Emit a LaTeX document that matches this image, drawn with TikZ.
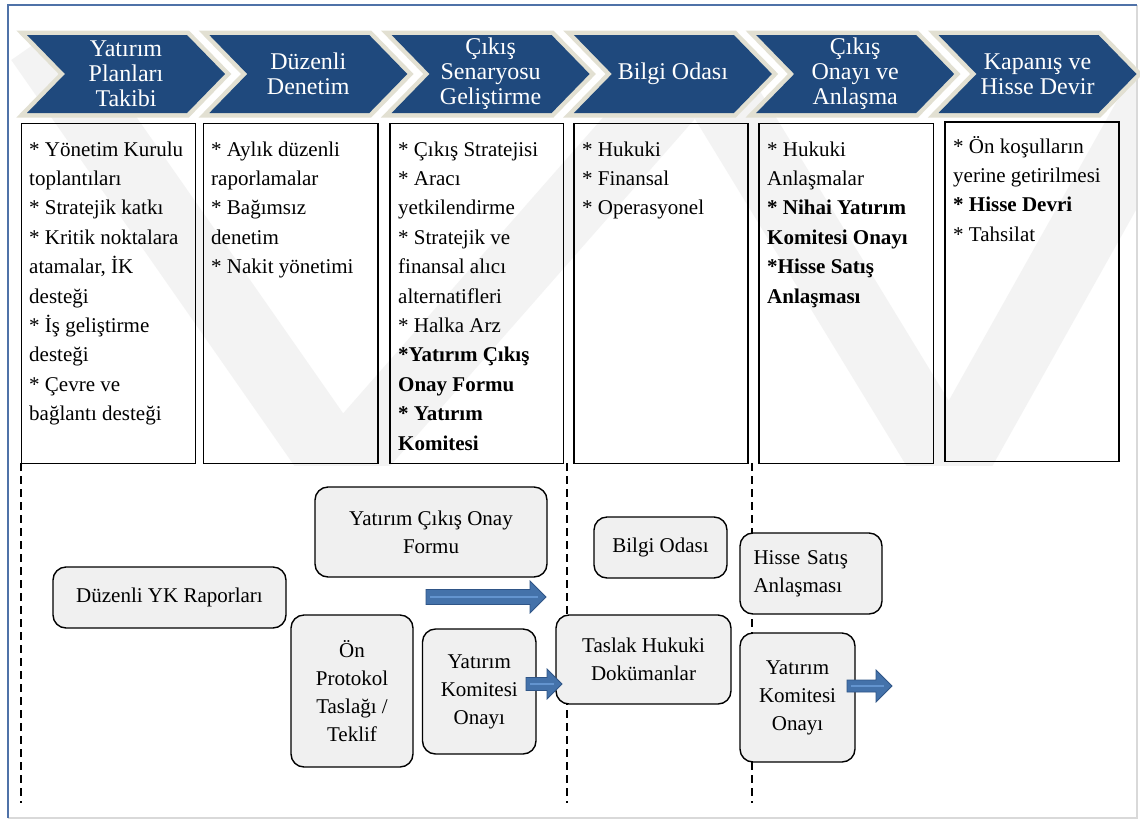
\documentclass[tikz,border=0pt]{standalone}
\usepackage{fontspec}
\setmainfont{Liberation Serif}
\definecolor{chevblue}{HTML}{1F497D}
\definecolor{chevedge}{HTML}{E2E0D2}
\definecolor{boxgray}{HTML}{F0F0F0}
\definecolor{framecol}{HTML}{4F72A8}
\definecolor{frameshade}{HTML}{D9D9D9}
\definecolor{arrowfill}{HTML}{4472AA}
\definecolor{arrowedge}{HTML}{2F5587}
\definecolor{arrowlight}{HTML}{6394CF}
\definecolor{wmark}{HTML}{F3F3F3}
\newcommand{\BlockArrow}[6]{% x1, x2, yc, shaft half, head half, head length
  \pgfmathsetmacro\hb{#2-#6}
  \filldraw[fill=arrowfill, draw=arrowedge, line width=0.8pt, line join=miter]
    (#1,#3-#4) -- (\hb,#3-#4) -- (\hb,#3-#5) -- (#2,#3) -- (\hb,#3+#5) -- (\hb,#3+#4) -- (#1,#3+#4) -- cycle;
  \draw[arrowlight, line width=2.6pt] (#1+4,#3) -- (#2-8,#3);
}
\begin{document}
\begin{tikzpicture}[x=1pt,y=-1pt,
  chevtext/.style={text=white, align=center, font=\fontsize{24}{25}\selectfont, inner sep=0pt},
  colbox/.style={draw=black, line width=1.7pt, inner sep=0pt, anchor=north west},
  coltext/.style={anchor=base west, inner sep=0pt, font=\fontsize{21}{28}\selectfont},
  rbox/.style={draw=black, line width=1.4pt, fill=boxgray, rounded corners=13pt, inner sep=0pt, align=center, font=\fontsize{21}{28}\selectfont},
  phaseline/.style={draw=black, line width=1.8pt, dash pattern=on 8pt off 5pt}
]
\useasboundingbox (0,0) rectangle (1140,820);
\fill[white] (0,0) rectangle (1140,820);

% faint watermark
\begin{scope}
  \clip (9,40) rectangle (1136,465);
  \draw[wmark, line width=70pt, line join=miter] (40,40) -- (340,470) -- (700,60) -- (950,470) -- (1180,60);
\end{scope}

% frame
\draw[frameshade, line width=1.2pt] (1137,5) -- (1137,818) -- (8,818);
\draw[framecol, line width=1.3pt] (8,818) -- (8,5) -- (1137,5);

% chevrons
\foreach \k/\t in {0/{Yatırım\\Planları\\Takibi}, 1/{Düzenli\\Denetim}, 2/{Çıkış\\Senaryosu\\Geliştirme}, 3/{Bilgi Odası}, 4/{Çıkış\\Onayı ve\\Anlaşma}, 5/{Kapanış ve\\Hisse Devir}} {
  \pgfmathsetmacro\L{27+182.3*\k}
  \draw[chevedge, line width=9pt, line join=miter] (\L,35) -- ++(160,0) -- ++(38,39) -- ++(-38,39) -- ++(-160,0) -- ++(38,-39) -- cycle;
  \fill[chevblue] (\L,35) -- ++(160,0) -- ++(38,39) -- ++(-38,39) -- ++(-160,0) -- ++(38,-39) -- cycle;
  \node[chevtext] (chev\k) at (\L+99,74) {\t};
}

% column boxes
\node[colbox, minimum width=174pt, minimum height=340pt] (box1) at (20.5,122.5) {};
\node[colbox, minimum width=174.5pt, minimum height=340pt] (box2) at (202.5,122.5) {};
\node[colbox, minimum width=173.5pt, minimum height=340pt] (box3) at (389,122.5) {};
\node[colbox, minimum width=174pt, minimum height=340pt] (box4) at (573,122.5) {};
\node[colbox, minimum width=174.5pt, minimum height=340pt] (box5) at (758,122.5) {};
\node[colbox, minimum width=174pt, minimum height=339.5pt] (box6) at (944,121) {};

\foreach \t [count=\i] in {{* Yönetim Kurulu}, {toplantıları}, {* Stratejik katkı}, {* Kritik noktalara}, {atamalar, İK}, {desteği}, {* İş geliştirme}, {desteği}, {* Çevre ve}, {bağlantı desteği}}
  \node[coltext] (ta\i) at (29,{156+29.4*(\i-1)}) {\t};
\foreach \t [count=\i] in {{* Aylık düzenli}, {raporlamalar}, {* Bağımsız}, {denetim}, {* Nakit yönetimi}}
  \node[coltext] (tb\i) at (211,{156+29.4*(\i-1)}) {\t};
\foreach \t [count=\i] in {{* Çıkış Stratejisi}, {* Aracı}, {yetkilendirme}, {* Stratejik ve}, {finansal alıcı}, {alternatifleri}, {* Halka Arz}, {\textbf{*Yatırım Çıkış}}, {\textbf{Onay Formu}}, {\textbf{* Yatırım}}, {\textbf{Komitesi}}}
  \node[coltext] (tc\i) at (398,{156+29.4*(\i-1)}) {\t};
\foreach \t [count=\i] in {{* Hukuki}, {* Finansal}, {* Operasyonel}}
  \node[coltext] (td\i) at (582,{156+29.4*(\i-1)}) {\t};
\foreach \t [count=\i] in {{* Hukuki}, {Anlaşmalar}, {\textbf{* Nihai Yatırım}}, {\textbf{Komitesi Onayı}}, {\textbf{*Hisse Satış}}, {\textbf{Anlaşması}}}
  \node[coltext] (te\i) at (767,{156+29.4*(\i-1)}) {\t};
\foreach \t [count=\i] in {{* Ön koşulların}, {yerine getirilmesi}, {\textbf{* Hisse Devri}}, {* Tahsilat}}
  \node[coltext] (tf\i) at (953,{153+29.4*(\i-1)}) {\t};

% phase separators
\coordinate (s1t) at (21,463); \coordinate (s1b) at (21,803);
\coordinate (s2t) at (567,463); \coordinate (s2b) at (567,803);
\coordinate (s3t) at (752,463); \coordinate (s3b) at (752,803);
\draw[phaseline] (s1t) -- (s1b);
\draw[phaseline] (s2t) -- (s2b);
\draw[phaseline] (s3t) -- (s3b);

% rounded boxes
\node[rbox, minimum width=233pt, minimum height=61pt] (ykr) at (169.5,597.5) {Düzenli YK Raporları};
\node[rbox, minimum width=232pt, minimum height=90pt] (ycof) at (431,532) {Yatırım Çıkış Onay\\Formu};
\node[rbox, minimum width=122pt, minimum height=152pt] (onp) at (352,691) {Ön\\Protokol\\Taslağı /\\Teklif};
\node[rbox, minimum width=113.5pt, minimum height=125pt] (yko1) at (479.25,691.5) {Yatırım\\Komitesi\\Onayı};
\node[rbox, minimum width=175pt, minimum height=89pt] (thd) at (643.5,659.5) {Taslak Hukuki\\Dokümanlar};
\node[rbox, minimum width=133pt, minimum height=61pt] (bo) at (660.5,547.5) {Bilgi Odası};
\node[rbox, align=left, text width=115pt, minimum width=142pt, minimum height=81pt] (hsa) at (811,573.5) {Hisse Satış\\Anlaşması};
\node[rbox, minimum width=115pt, minimum height=129pt] (yko2) at (797.5,697.5) {Yatırım\\Komitesi\\Onayı};

% block arrows
\BlockArrow{426}{546}{597}{7.5}{16}{16}
\BlockArrow{526}{562}{684}{6.5}{15}{15}
\BlockArrow{847}{892}{686}{6}{16}{16}
\end{tikzpicture}
\end{document}
